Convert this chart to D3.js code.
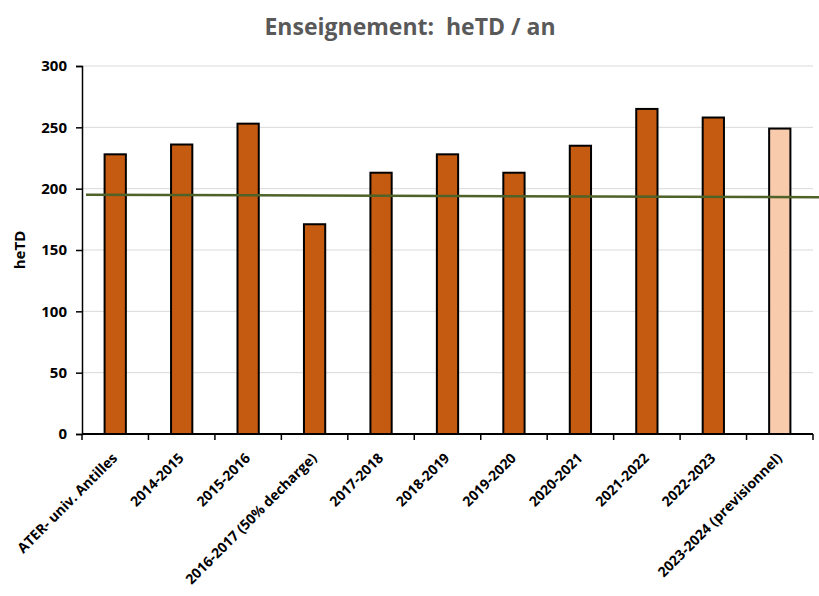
<!DOCTYPE html>
<html><head><meta charset="utf-8">
<script src="https://d3js.org/d3.v7.min.js"></script>
<style>body{margin:0;background:#fff}svg{display:block}text{font-family:"Open Sans",Lato,sans-serif}</style>
</head><body><div id="chart"></div>
<script>
const categories = ["ATER- univ. Antilles","2014-2015","2015-2016","2016-2017 (50% decharge)","2017-2018","2018-2019","2019-2020","2020-2021","2021-2022","2022-2023","2023-2024 (previsionnel)"];
const values = [228,236,253,171,213,228,213,235,265,258,249];
const provisional = [false,false,false,false,false,false,false,false,false,false,true];
const yTicks = [0,50,100,150,200,250,300];
const trendStart = 195, trendEnd = 193;
const title = "Enseignement:  heTD / an";
const yLabel = "heTD";

const W=819,H=596;
const m={left:82,right:6,top:66,bottom:162};
const svg=d3.select("#chart").append("svg").attr("width",W).attr("height",H);
const x=d3.scaleBand().domain(categories).range([m.left,W-m.right]).paddingInner(0.68).paddingOuter(0.34);
const y=d3.scaleLinear().domain([0,300]).range([H-m.bottom,m.top]);

svg.append("g").selectAll("line").data(yTicks.filter(d=>d>0)).join("line")
 .attr("x1",m.left).attr("x2",W-m.right).attr("y1",d=>y(d)).attr("y2",d=>y(d))
 .attr("stroke","#d9d9d9").attr("stroke-width",1);

svg.append("g").selectAll("rect").data(values).join("rect")
 .attr("x",(d,i)=>x(categories[i])).attr("width",x.bandwidth())
 .attr("y",d=>y(d)).attr("height",d=>y(0)-y(d))
 .attr("fill",(d,i)=>provisional[i]?"#f8cbad":"#c55a11")
 .attr("stroke","#000").attr("stroke-width",2);

const step=x.step();
svg.append("line").attr("x1",m.left+4).attr("x2",W)
 .attr("y1",y(trendStart)).attr("y2",y(trendEnd))
 .attr("stroke","#4f6228").attr("stroke-width",2.5);

const ya=svg.append("g").attr("transform",`translate(${m.left},0)`)
 .call(d3.axisLeft(y).tickValues(yTicks).tickSize(6).tickPadding(9));
ya.select(".domain").attr("stroke","#000").attr("stroke-width",1.5);
ya.selectAll(".tick line").attr("stroke","#000").attr("stroke-width",1.5);
ya.selectAll("text").attr("font-size",15).attr("font-weight","bold").attr("fill","#000").style("font-family","'Open Sans',Lato,sans-serif");

const xa=svg.append("g").attr("transform",`translate(0,${y(0)})`);
xa.append("line").attr("x1",m.left).attr("x2",W-m.right).attr("stroke","#000").attr("stroke-width",2);
const bounds=d3.range(categories.length+1).map(i=>m.left+i*step);
xa.selectAll(".tk").data(bounds).join("line").attr("class","tk")
 .attr("x1",d=>d).attr("x2",d=>d).attr("y1",0).attr("y2",6).attr("stroke","#000").attr("stroke-width",1.5);
xa.selectAll(".lbl").data(categories).join("text").attr("class","lbl")
 .attr("transform",d=>`translate(${x(d)+x.bandwidth()/2+3},${25}) rotate(-45)`)
 .attr("text-anchor","end").attr("font-size",14).attr("font-weight","bold").attr("fill","#000")
 .text(d=>d);

svg.append("text").attr("transform",`translate(25,${y(150)}) rotate(-90)`)
 .attr("text-anchor","middle").attr("font-size",15).attr("font-weight","bold").text(yLabel);

svg.append("text").attr("x",410).attr("y",35).attr("text-anchor","middle")
 .attr("font-size",23).attr("font-weight","bold").attr("fill","#595959").attr("xml:space","preserve").style("white-space","pre").text(title);
</script></body></html>
